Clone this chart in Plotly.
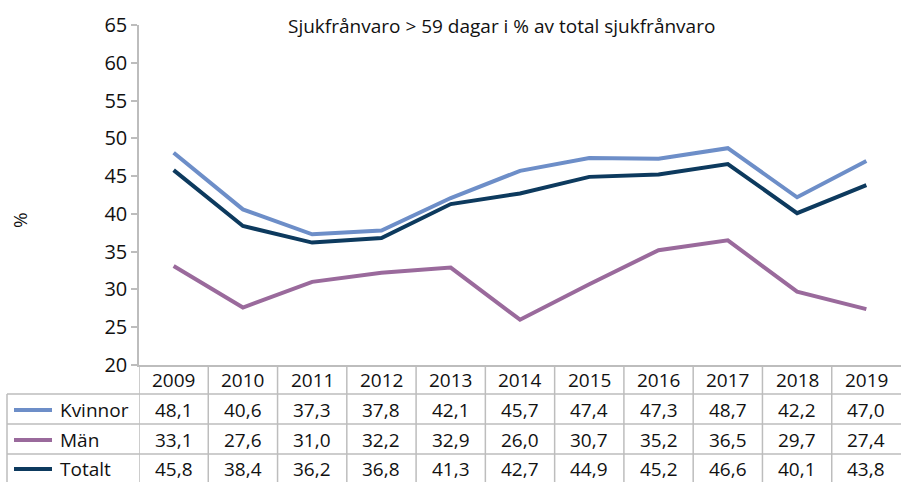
import plotly.graph_objects as go

years = ["2009", "2010", "2011", "2012", "2013", "2014", "2015", "2016", "2017", "2018", "2019"]
kvinnor = [48.1, 40.6, 37.3, 37.8, 42.1, 45.7, 47.4, 47.3, 48.7, 42.2, 47.0]
man = [33.1, 27.6, 31.0, 32.2, 32.9, 26.0, 30.7, 35.2, 36.5, 29.7, 27.4]
totalt = [45.8, 38.4, 36.2, 36.8, 41.3, 42.7, 44.9, 45.2, 46.6, 40.1, 43.8]

series = [
    ("Kvinnor", kvinnor, "#6d8ec8"),
    ("Män", man, "#9a6a9c"),
    ("Totalt", totalt, "#0d3a5e"),
]

W, H = 901, 482
L, R, T, B = 139, 0, 25, 117
PW = W - L - R
PH = H - T - B


def py(p):
    return (H - B - p) / PH


def px(p):
    return (p - L) / PW


FONT = "Open Sans"
GRID = "#bdbdbd"
TXT = "#111111"

fig = go.Figure()
for name, vals, col in series:
    fig.add_trace(go.Scatter(x=list(range(len(years))), y=vals, mode="lines", name=name,
                             line=dict(color=col, width=4), showlegend=False))

ann = []
shapes = []


def txt(text, x, y, xref="paper", xanchor="center", size=19, angle=0):
    ann.append(dict(text=text, xref=xref, yref="paper", x=x, y=y,
                    xanchor=xanchor, yanchor="middle", textangle=angle,
                    showarrow=False, font=dict(family=FONT, size=size, color=TXT)))


# title
txt("Sjukfrånvaro > 59 dagar i % av total sjukfrånvaro", px(501), py(26))
# y title
txt("%", px(20), py(220), angle=-90)

# table header
for i, yr in enumerate(years):
    txt(yr, i, py(380), xref="x")

row_centers = [410, 440, 469]
for (name, vals, col), rc in zip(series, row_centers):
    for i, v in enumerate(vals):
        txt(f"{v:.1f}".replace(".", ","), i, py(rc), xref="x")
    txt(name, px(58), py(rc), xanchor="left")
    shapes.append(dict(type="line", xref="paper", yref="paper",
                       x0=px(14), x1=px(52), y0=py(rc), y1=py(rc),
                       line=dict(color=col, width=4)))

# table grid
for i in range(len(years)):
    shapes.append(dict(type="line", xref="x", yref="paper", x0=i - 0.5, x1=i - 0.5,
                       y0=0, y1=py(H), line=dict(color=GRID, width=1.5)))
for hy in [394, 424, 454]:
    shapes.append(dict(type="line", xref="paper", yref="paper", x0=px(7), x1=1,
                       y0=py(hy), y1=py(hy), line=dict(color=GRID, width=1.5)))
shapes.append(dict(type="line", xref="paper", yref="paper", x0=px(7), x1=px(7),
                   y0=py(394), y1=py(H), line=dict(color=GRID, width=1.5)))

fig.update_layout(
    width=W, height=H,
    margin=dict(l=L, r=R, t=T, b=B),
    plot_bgcolor="white", paper_bgcolor="white",
    annotations=ann, shapes=shapes,
    xaxis=dict(range=[-0.5, 10.5], showticklabels=False,
               showgrid=False, zeroline=False, showline=True, linecolor=GRID,
               linewidth=1.5, ticks=""),
    yaxis=dict(range=[20, 65], dtick=5, showgrid=False, zeroline=False,
               showline=True, linecolor=GRID, linewidth=1.5, ticks="outside",
               ticklen=6, tickcolor=GRID, tickwidth=1.5,
               tickfont=dict(family=FONT, size=20, color=TXT)),
)

fig.write_html("out.html", config={"displayModeBar": False},
               post_script="document.body.style.margin='0';")
